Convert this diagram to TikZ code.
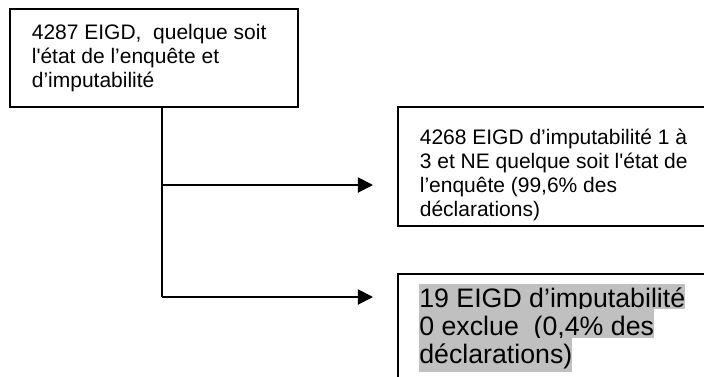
\documentclass[tikz,border=0pt]{standalone}
\usepackage{fontspec}
\setmainfont{Liberation Sans}
\usetikzlibrary{arrows.meta,fit}
\definecolor{hlgray}{HTML}{C0C0C0}
\begin{document}
\begin{tikzpicture}[x=0.524pt,y=-0.524pt,
  box/.style={draw, line width=1pt, inner sep=0pt},
  txt/.style={anchor=base west, inner sep=0pt, font=\fontsize{11}{12.6}\selectfont},
  hl/.style={anchor=base west, inner sep=0pt, fill=hlgray, font=\fontsize{14}{14.7}\selectfont},
  conn/.style={line width=1pt},
  arr/.style={conn, -{Triangle[length=7.9pt,width=7.9pt]}}]
\clip (0,0) rectangle (704,376);
% boxes
\node[box, fit={(10,9) (298,107)}] (box1) {};
\node[box, fit={(398,107) (730,226)}] (box2) {};
\node[box, fit={(398,274) (730,420)}] (box3) {};
% texts
\node[txt] (t1) at (31.5,39.5) {\vtop{\hbox{4287 EIGD,\ \ quelque soit}\hbox{l\textquotesingle état de l’enquête et}\hbox{d’imputabilité}}};
\node[txt] (t2) at (419.5,144) {\vtop{\hbox{4268 EIGD d’imputabilité 1 à}\hbox{3 et NE quelque soit l\textquotesingle état de}\hbox{l’enquête (99,6\% des}\hbox{déclarations)}}};
\node[hl, text height=12.05pt, text depth=1.05pt] (l1) at (419,307) {19 EIGD d’imputabilité};
\node[hl, text height=13.6pt, text depth=1.6pt] (l2) at (419,335) {0 exclue\ \ (0,4\% des};
\node[hl, text height=13.1pt, text depth=4.7pt] (l3) at (419,363) {déclarations)};
% connectors
\coordinate (j1) at (162,185);
\coordinate (j2) at (162,297);
\coordinate (e1) at (373,185);
\coordinate (e2) at (373,297);
\draw[conn] (box1.south -| j1) -- (j2);
\draw[arr] (j1) -- (e1);
\draw[arr] (j2) -- (e2);
\end{tikzpicture}
\end{document}
